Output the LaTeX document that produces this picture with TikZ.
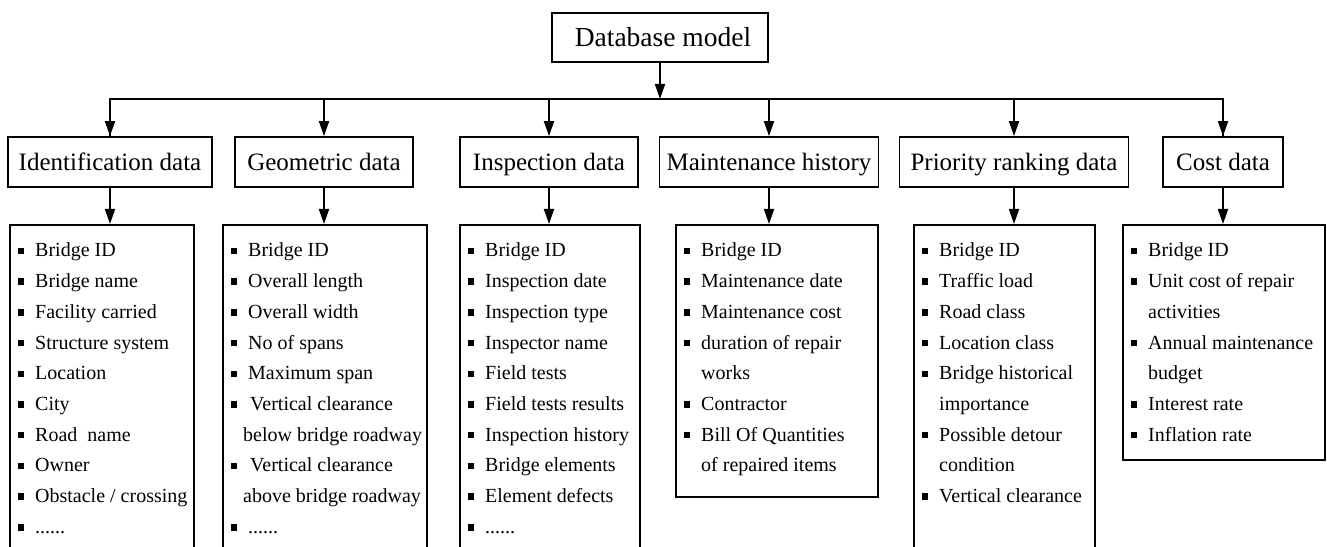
\documentclass[tikz,border=0pt]{standalone}
\usepackage{fontspec}
\setmainfont{Liberation Serif}
\usetikzlibrary{arrows.meta,calc}
\tikzset{
  lw/.style={line width=1.8bp},
  arr/.style={lw,-{Triangle[length=15bp,width=10bp]}},
  topbox/.style={draw,lw,inner sep=0pt,text height=18.5bp,text depth=0pt,minimum width=216bp,minimum height=49bp,font=\fontsize{27.5bp}{32bp}\selectfont},
  catbox/.style={draw,lw,inner sep=0pt,text height=17.5bp,text depth=0pt,minimum height=50bp,font=\fontsize{25bp}{30bp}\selectfont},
  listbox/.style={draw,lw,inner sep=0pt,anchor=north west},
  item/.style={anchor=base west,inner sep=0pt,font=\fontsize{20bp}{24bp}\selectfont},
  bul/.style={fill=black,inner sep=0pt,minimum size=6.5bp},
}
\begin{document}
\begin{tikzpicture}[x=1bp,y=-1bp]
\clip (0,0) rectangle (1327,547);
\fill[white] (0,0) rectangle (1327,547);
% top
\node[topbox] (db) at (660,37.5) {\hspace*{6bp}Database model};
\coordinate (bus) at (660,99);
% categories
\node[catbox,minimum width=204bp] (id) at (110,162) {Identification data};
\node[catbox,minimum width=178bp] (geo) at (324,162) {Geometric data};
\node[catbox,minimum width=178bp] (ins) at (549,162) {Inspection data};
\node[catbox,minimum width=219bp] (mai) at (769,162) {Maintenance history};
\node[catbox,minimum width=229bp] (pri) at (1014,162) {Priority ranking data};
\node[catbox,minimum width=120bp] (cost) at (1223,162) {Cost data};
% list boxes
\node[listbox,minimum width=184bp,minimum height=336bp] (l1) at (9,224) {};
\node[listbox,minimum width=204bp,minimum height=336bp] (l2) at (222,224) {};
\node[listbox,minimum width=180bp,minimum height=336bp] (l3) at (459,224) {};
\node[listbox,minimum width=202bp,minimum height=272bp] (l4) at (675,224) {};
\node[listbox,minimum width=181bp,minimum height=336bp] (l5) at (913,224) {};
\node[listbox,minimum width=202bp,minimum height=235bp] (l6) at (1122,224) {};
% connectors
\draw[arr] (db.south) -- (bus);
\draw[lw,line join=miter] (id.north) |- (bus) -| (cost.north);
\foreach \c in {id,geo,ins,mai,pri,cost} {
  \draw[arr] (\c.north |- bus) -- (\c.north);
}
\foreach \c/\l in {id/l1,geo/l2,ins/l3,mai/l4,pri/l5,cost/l6} {
  \draw[arr] (\c.south) -- (\c.south |- \l.north);
}
% items
\foreach \bx/\list in {
  l1/{1/26/Bridge ID,1/26/Bridge name,1/26/Facility carried,1/26/Structure system,1/26/Location,1/26/City,1/26/{Road~~name},1/26/Owner,1/26/{Obstacle / crossing},1/26/{......}},
  l2/{1/26/Bridge ID,1/26/Overall length,1/26/Overall width,1/26/No of spans,1/26/Maximum span,1/28/Vertical clearance,0/21/below bridge roadway,1/28/Vertical clearance,0/21/above bridge roadway,1/26/{......}},
  l3/{1/26/Bridge ID,1/26/Inspection date,1/26/Inspection type,1/26/Inspector name,1/26/Field tests,1/26/Field tests results,1/26/Inspection history,1/26/Bridge elements,1/26/Element defects,1/26/{......}},
  l4/{1/26/Bridge ID,1/26/Maintenance date,1/26/Maintenance cost,1/26/duration of repair,0/26/works,1/26/Contractor,1/26/Bill Of Quantities,0/26/of repaired items},
  l5/{1/26/Bridge ID,1/26/Traffic load,1/26/Road class,1/26/Location class,1/26/Bridge historical,0/26/importance,1/26/Possible detour,0/26/condition,1/26/Vertical clearance},
  l6/{1/26/Bridge ID,1/26/Unit cost of repair,0/26/activities,1/26/Annual maintenance,0/26/budget,1/26/Interest rate,1/26/Inflation rate}} {
  \foreach \b/\dx/\t [count=\i] in \list {
    \node[item] (\bx-t\i) at ($(\bx.north west)+(\dx,33+30.7*\i-30.7)$) {\t};
    \ifnum\b=1
      \node[bul] (\bx-b\i) at ($(\bx.north west)+(12,27+30.7*\i-30.7)$) {};
    \fi
  }
}
\end{tikzpicture}
\end{document}
